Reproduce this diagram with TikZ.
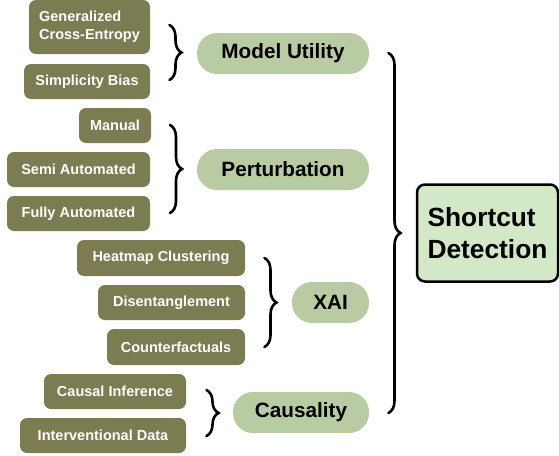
\documentclass[tikz,border=0pt]{standalone}
\usepackage{fontspec}
\setmainfont{Liberation Sans}
\usetikzlibrary{decorations.pathreplacing}
\definecolor{olive}{HTML}{7C7C52}
\definecolor{pill}{HTML}{B8CBA2}
\definecolor{rootfill}{HTML}{D2E8C6}
\tikzset{
  leaf/.style={fill=olive, rounded corners=7pt, text=white, inner sep=0pt,
    font=\fontsize{14.5}{17.5}\selectfont\bfseries, minimum height=35pt, align=left},
  cat/.style={fill=pill, rounded corners=20pt, inner sep=0pt,
    font=\fontsize{20.7}{24}\selectfont\bfseries, minimum height=41pt},
  rootbox/.style={fill=rootfill, draw=black, line width=2.5pt, rounded corners=8pt, inner sep=0pt,
    font=\fontsize{26.3}{32}\selectfont\bfseries, align=left, minimum width=141pt, minimum height=97pt},
  brc/.style={decorate, decoration={brace, amplitude=12pt}, line width=2.6pt, line cap=round},
}
\begin{document}
\begin{tikzpicture}[x=1pt, y=-1pt]
\useasboundingbox (0,0) rectangle (559,455);
% leaves
\node[leaf, minimum width=121pt, minimum height=54pt] (gce) at (89.5,27) {Generalized\\Cross-Entropy};
\node[leaf, minimum width=126pt] (sb) at (87,81.5) {Simplicity Bias};
\node[leaf, minimum width=72pt] (man) at (115,125.5) {Manual};
\node[leaf, minimum width=143pt] (semi) at (78.5,169.5) {Semi Automated};
\node[leaf, minimum width=143pt] (fully) at (78.5,213.5) {Fully Automated};
\node[leaf, minimum width=168pt, minimum height=36pt] (heat) at (161,258) {Heatmap Clustering};
\node[leaf, minimum width=147pt] (dis) at (171.5,302.5) {Disentanglement};
\node[leaf, minimum width=138pt, minimum height=36pt] (cf) at (176,347) {Counterfactuals};
\node[leaf, minimum width=142pt] (ci) at (115,391.5) {Causal Inference};
\node[leaf, minimum width=166pt] (id) at (103,435.5) {Interventional Data};
% categories
\node[cat, minimum width=172pt] (mu) at (283,53.5) {Model Utility};
\node[cat, minimum width=172pt] (pert) at (283,169.5) {Perturbation};
\node[cat, minimum width=77pt] (xai) at (330.5,302.5) {XAI};
\node[cat, minimum width=136pt] (caus) at (301,412.5) {Causality};
% root
\node[rootbox] (root) at (487.5,233) {Shortcut\\Detection};
% brace ends
\coordinate (b1t) at (169.5,25);  \coordinate (b1b) at (169.5,80);
\coordinate (b2t) at (170,125);   \coordinate (b2b) at (170,213);
\coordinate (b3t) at (264.5,258); \coordinate (b3b) at (264.5,347);
\coordinate (b4t) at (206.5,390); \coordinate (b4b) at (206.5,436);
\coordinate (b5t) at (388.5,53);  \coordinate (b5b) at (388.5,413);
\draw[brc] (b1t) -- (b1b);
\draw[brc] (b2t) -- (b2b);
\draw[brc] (b3t) -- (b3b);
\draw[brc] (b4t) -- (b4b);
\draw[brc] (b5t) -- (b5b);
\end{tikzpicture}
\end{document}
